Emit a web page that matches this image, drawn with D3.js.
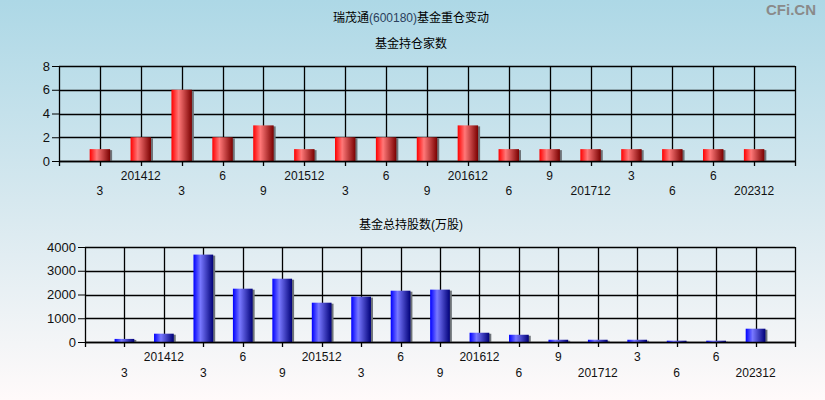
<!DOCTYPE html>
<html>
<head>
<meta charset="utf-8">
<script src="https://cdn.jsdelivr.net/npm/d3@7"></script>
<style>
  html, body { margin: 0; padding: 0; }
  svg { display: block; }
  text { font-family: "Liberation Sans", Arial, "Noto Sans CJK SC", sans-serif; }
  .cjk { font-family: "Liberation Sans", "Noto Sans CJK SC", sans-serif; }
</style>
</head>
<body>
<svg id="chart" width="825" height="400"></svg>
<script>
// Reporting periods (x categories) and their axis labels
const periods = ["p01","p02","p03","p04","p05","p06","p07","p08","p09","p10","p11","p12","p13","p14","p15","p16","p17"];
const tickLabels = ["3","201412","3","6","9","201512","3","6","9","201612","6","9","201712","3","6","6","202312"];

// Number of funds holding the stock
const fundCount = [1, 2, 6, 2, 3, 1, 2, 2, 2, 3, 1, 1, 1, 1, 1, 1, 1];
const countTicks = [0, 2, 4, 6, 8];

// Total shares held by funds (10k shares)
const fundShares = [130, 350, 3680, 2245, 2665, 1655, 1910, 2160, 2205, 390, 305, 95, 95, 95, 55, 55, 560];
const shareTicks = [0, 1000, 2000, 3000, 4000];

const mainTitle = ["瑞茂通", "(600180)", "基金重仓变动"];
const title1 = "基金持仓家数";
const title2 = "基金总持股数(万股)";
const brand = "CFi.CN";

const svg = d3.select("#chart");
const W = 825, H = 400;

const defs = svg.append("defs");
const bg = defs.append("linearGradient").attr("id", "bg")
  .attr("x1", 0).attr("y1", 0).attr("x2", 0).attr("y2", 1);
bg.append("stop").attr("offset", "0%").attr("stop-color", "#add8e6");
bg.append("stop").attr("offset", "50%").attr("stop-color", "#d6e8ef");
bg.append("stop").attr("offset", "100%").attr("stop-color", "#fffafa");

function barGradient(id, c0, c1, c2) {
  const g = defs.append("linearGradient").attr("id", id)
    .attr("x1", 0).attr("y1", 0).attr("x2", 1).attr("y2", 0);
  g.append("stop").attr("offset", "0%").attr("stop-color", c0);
  g.append("stop").attr("offset", "35%").attr("stop-color", c1);
  g.append("stop").attr("offset", "100%").attr("stop-color", c2);
}
barGradient("redBar", "#ff0000", "#ff7878", "#7a0000");
barGradient("blueBar", "#0000ff", "#7878ff", "#000078");

svg.append("rect").attr("width", W).attr("height", H).attr("fill", "url(#bg)");

// Titles
const t = svg.append("text").attr("x", 411).attr("y", 22)
  .attr("text-anchor", "middle").attr("font-size", 12).attr("class", "cjk").attr("fill", "#000");
t.append("tspan").text(mainTitle[0]);
t.append("tspan").attr("fill", "#2b3f5c").text(mainTitle[1]);
t.append("tspan").text(mainTitle[2]);

svg.append("text").attr("x", 816).attr("y", 15).attr("text-anchor", "end")
  .attr("font-size", 15).attr("font-weight", "bold").attr("fill", "#8a8a8a")
  .attr("font-family", "'DejaVu Sans Condensed', 'Liberation Sans Narrow', sans-serif")
  .text(brand);

function drawPanel(cfg) {
  const { left, right, top, bottom, values, ticks, max, fill, title, titleY, row1, row2 } = cfg;
  const g = svg.append("g");

  const x = d3.scalePoint().domain(periods).range([left, right]).padding(1);
  const y = d3.scaleLinear().domain([0, max]).range([bottom, top]);
  const bw = x.step() / 2;

  g.append("text").attr("x", 411).attr("y", titleY).attr("text-anchor", "middle")
    .attr("font-size", 12).attr("class", "cjk").text(title);

  // Horizontal grid and y ticks
  const yAxis = d3.axisLeft(y).tickValues(ticks).tickSize(7).tickPadding(2).tickFormat(d3.format("d"));
  const ya = g.append("g").attr("transform", `translate(${left},0)`).call(yAxis);
  ya.select(".domain").remove();
  ya.selectAll("line").attr("stroke", "#000");
  ya.selectAll("text").attr("font-size", 13).attr("fill", "#111")
    .attr("font-family", "'Liberation Sans', Arial, sans-serif");

  g.selectAll(".hgrid").data(ticks).join("line")
    .attr("x1", left).attr("x2", right)
    .attr("y1", d => Math.round(y(d)) + 0.5).attr("y2", d => Math.round(y(d)) + 0.5)
    .attr("stroke", "#000").attr("stroke-width", 1.3);

  // Vertical grid at each period plus the frame edges
  const vx = [left, ...periods.map(p => x(p)), right];
  g.selectAll(".vgrid").data(vx).join("line")
    .attr("x1", d => Math.round(d) + 0.5).attr("x2", d => Math.round(d) + 0.5)
    .attr("y1", top).attr("y2", bottom + 5)
    .attr("stroke", "#000").attr("stroke-width", 1.3);

  // Bars with a thin shadow on the right
  g.selectAll(".shadow").data(values).join("rect")
    .attr("x", (d, i) => x(periods[i]) - bw / 2 + 1)
    .attr("y", d => y(d) + 1)
    .attr("width", bw + 1)
    .attr("height", d => Math.max(0, bottom - y(d) - 1))
    .attr("fill", "#6e7378");
  g.selectAll(".bar").data(values).join("rect")
    .attr("x", (d, i) => x(periods[i]) - bw / 2)
    .attr("y", d => y(d))
    .attr("width", bw)
    .attr("height", d => bottom - y(d))
    .attr("fill", fill);

  // Redraw baseline over bars
  g.append("line").attr("x1", left).attr("x2", right)
    .attr("y1", Math.round(bottom) + 0.5).attr("y2", Math.round(bottom) + 0.5)
    .attr("stroke", "#000").attr("stroke-width", 1.3);

  // Period labels, alternating between two rows
  g.selectAll(".xl").data(periods).join("text")
    .attr("x", p => x(p))
    .attr("y", (p, i) => i % 2 === 1 ? row1 : row2)
    .attr("text-anchor", "middle").attr("font-size", 12).attr("fill", "#111")
    .text((p, i) => tickLabels[i]);
}

drawPanel({ left: 59, right: 795, top: 66, bottom: 161, values: fundCount, ticks: countTicks, max: 8,
  fill: "url(#redBar)", title: title1, titleY: 48, row1: 180, row2: 195 });
drawPanel({ left: 85, right: 795, top: 247, bottom: 342, values: fundShares, ticks: shareTicks, max: 4000,
  fill: "url(#blueBar)", title: title2, titleY: 229, row1: 361, row2: 377 });
</script>
</body>
</html>
